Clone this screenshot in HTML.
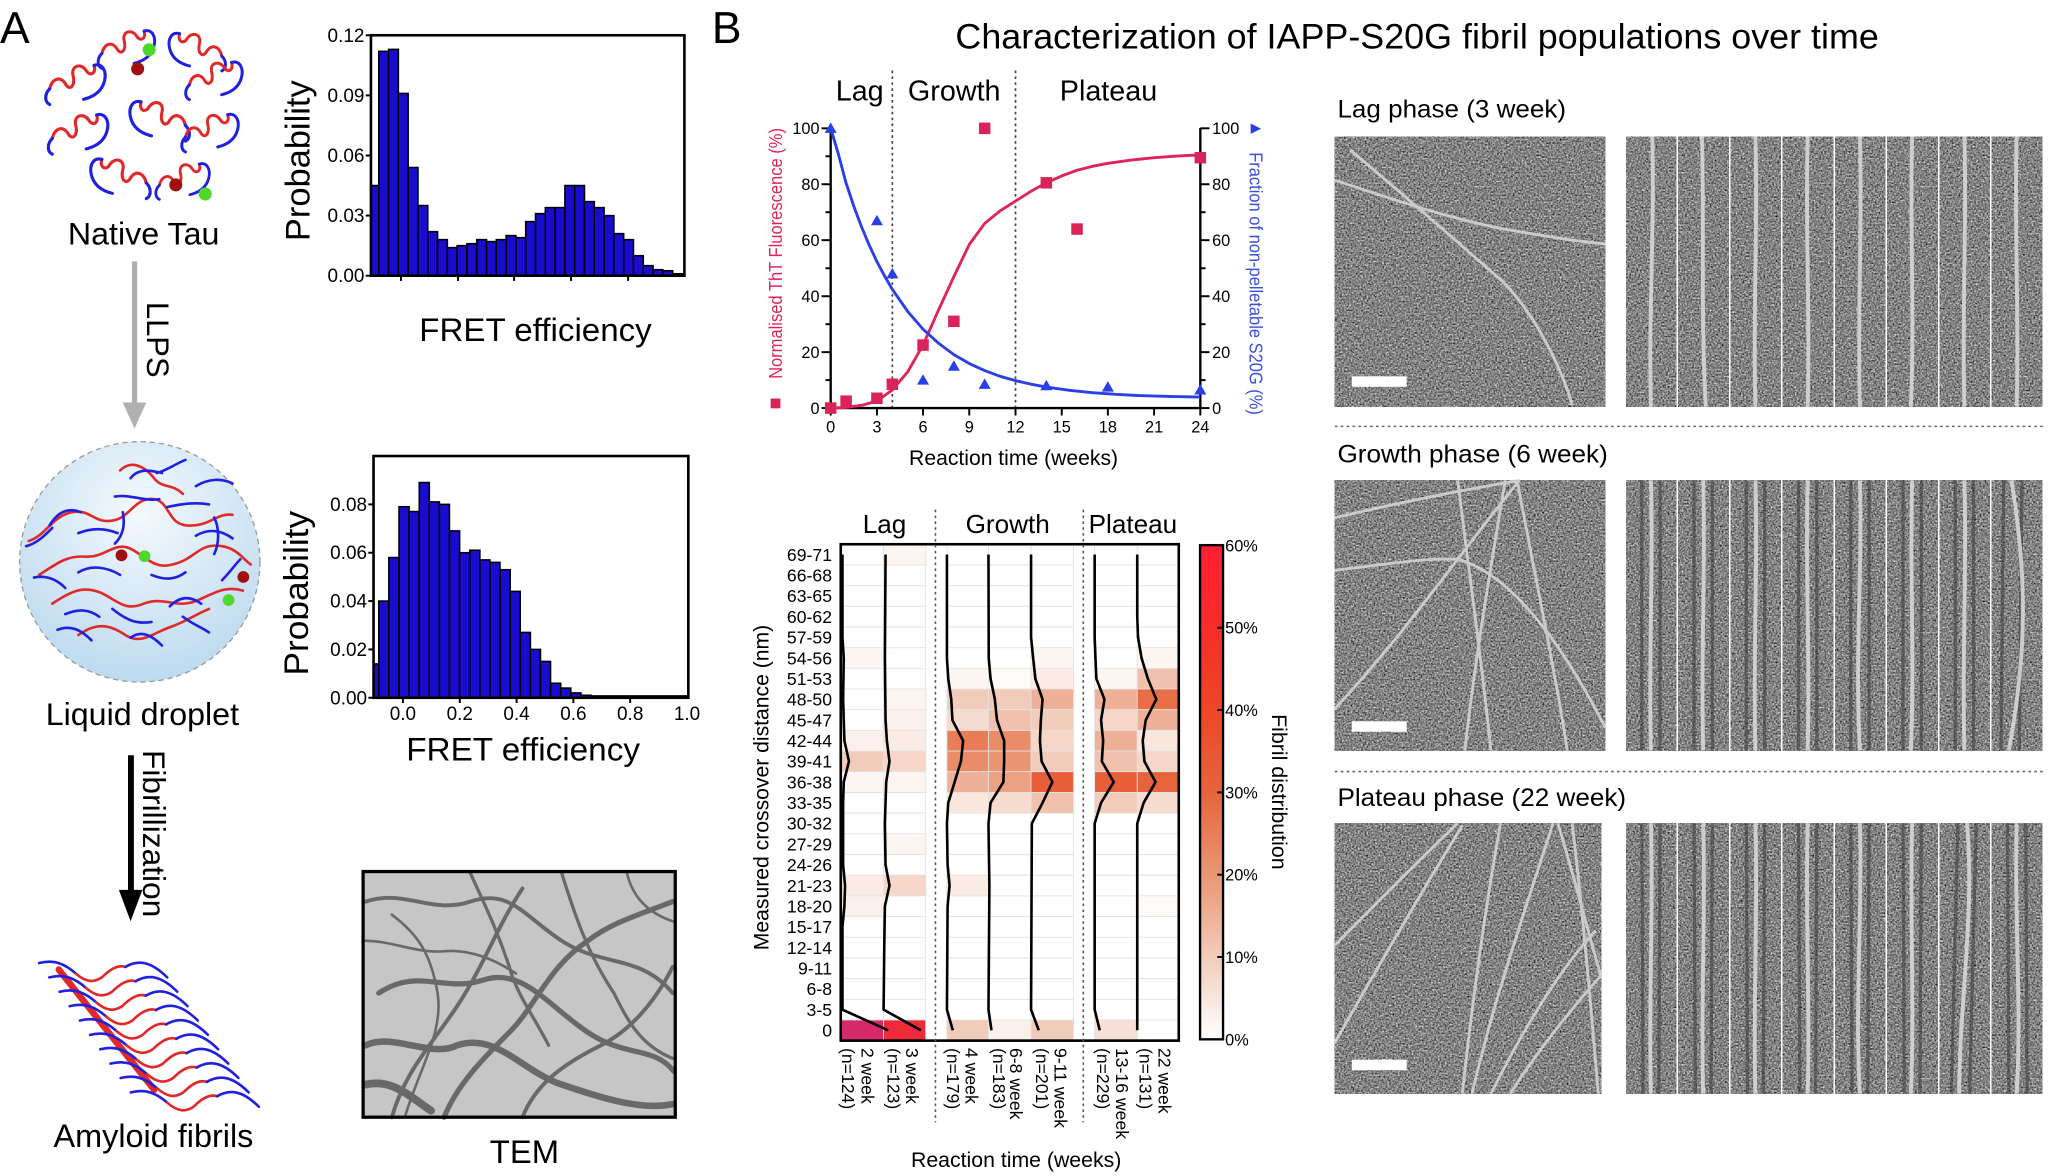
<!DOCTYPE html>
<html><head><meta charset="utf-8"><style>
html,body{margin:0;padding:0;background:#fff;}
svg{display:block;}
text{font-family:"Liberation Sans",Arial,sans-serif;}
</style></head><body>
<svg width="2048" height="1176" viewBox="0 0 1568 900" preserveAspectRatio="none" xmlns="http://www.w3.org/2000/svg">
<defs>
<filter id="nz" x="0" y="0" width="100%" height="100%" color-interpolation-filters="sRGB">
<feTurbulence type="fractalNoise" baseFrequency="0.75" numOctaves="2" seed="4" result="t"/>
<feColorMatrix in="t" type="matrix" values="0.33 0.33 0.33 0 0 0.33 0.33 0.33 0 0 0.33 0.33 0.33 0 0 0 0 0 0 1" result="g"/>
<feComponentTransfer in="g"><feFuncR type="linear" slope="1.8" intercept="-0.38"/><feFuncG type="linear" slope="1.8" intercept="-0.38"/><feFuncB type="linear" slope="1.8" intercept="-0.38"/></feComponentTransfer>
</filter>
<linearGradient id="cb" x1="0" y1="1" x2="0" y2="0">
<stop offset="0" stop-color="#ffffff"/><stop offset="0.1667" stop-color="#f2ccba"/><stop offset="0.3333" stop-color="#ea9673"/><stop offset="0.5" stop-color="#e6643c"/><stop offset="0.6667" stop-color="#ee4628"/><stop offset="0.8333" stop-color="#f52d28"/><stop offset="1" stop-color="#ff1f33"/>
</linearGradient>
<radialGradient id="drop" cx="0.5" cy="0.3" r="0.75">
<stop offset="0" stop-color="#f4f9fd"/><stop offset="1" stop-color="#b9d8ee"/>
</radialGradient>
<g id="mol" fill="none" stroke-width="2.4" stroke-linecap="round">
<path d="M0,22 C2,14 8,12 12,18 C15,24 20,20 18,12 C16,4 24,2 28,8 C31,13 36,10 34,4" stroke="#e02a2a"/>
<path d="M34,4 C40,2 44,8 42,16 C40,24 34,28 26,30" stroke="#2020e0"/>
<path d="M0,22 C-4,26 -4,32 0,34" stroke="#2020e0"/>
</g>
</defs>

<!-- ================= PANEL A ================= -->
<text x="0" y="33" font-size="34">A</text>

<use href="#mol" transform="translate(78,20) scale(0.95)"/>
<use href="#mol" transform="translate(128,22) scale(-0.95,0.95) translate(-44,0)"/>
<use href="#mol" transform="translate(38,46)"/>
<use href="#mol" transform="translate(145,44) scale(0.95)"/>
<use href="#mol" transform="translate(98,74) scale(-1,1) translate(-44,0)"/>
<use href="#mol" transform="translate(40,84)"/>
<use href="#mol" transform="translate(142,84) scale(0.95)"/>
<use href="#mol" transform="translate(68,118) scale(-1,1) translate(-44,0)"/>
<use href="#mol" transform="translate(122,122) scale(0.9)"/>
<circle cx="105.4" cy="52.7" r="5" fill="#a01010"/>
<circle cx="114.2" cy="38.1" r="5" fill="#4fd82a"/>
<circle cx="134.6" cy="141.5" r="5" fill="#a01010"/>
<circle cx="157.1" cy="148.5" r="5" fill="#4fd82a"/>
<text x="110" y="187" font-size="24" text-anchor="middle" textLength="116" lengthAdjust="spacingAndGlyphs">Native Tau</text>

<rect x="101" y="200" width="4" height="110" fill="#b0b0b0"/>
<polygon points="94,308 112,308 103,328" fill="#b0b0b0"/>
<text transform="translate(112.6,260) rotate(90)" font-size="24" text-anchor="middle" textLength="58" lengthAdjust="spacingAndGlyphs">LLPS</text>

<!-- hist 1 -->
<g fill="#1a0ccf" stroke="#000" stroke-width="1.2">
<rect x="284" y="142" width="6" height="69"/>
<rect x="290" y="39.3" width="7.5" height="171.7"/>
<rect x="297.5" y="37.8" width="7.5" height="173.2"/>
<rect x="305" y="71.5" width="7.5" height="139.5"/>
<rect x="312.5" y="128.2" width="7.5" height="82.8"/>
<rect x="320" y="157.3" width="7.5" height="53.7"/>
<rect x="327.5" y="177.3" width="7.5" height="33.7"/>
<rect x="335" y="183.4" width="7.5" height="27.6"/>
<rect x="342.5" y="189.5" width="7.5" height="21.5"/>
<rect x="350" y="188" width="7.5" height="23"/>
<rect x="357.5" y="186.5" width="7.5" height="24.5"/>
<rect x="365" y="183.4" width="7.5" height="27.6"/>
<rect x="372.5" y="184.9" width="7.5" height="26.1"/>
<rect x="380" y="183.4" width="7.5" height="27.6"/>
<rect x="387.5" y="180.3" width="7.5" height="30.7"/>
<rect x="395" y="181.9" width="7.5" height="29.1"/>
<rect x="402.5" y="169.6" width="7.5" height="41.4"/>
<rect x="410" y="163.5" width="7.5" height="47.5"/>
<rect x="417.5" y="158.9" width="7.5" height="52.1"/>
<rect x="425" y="158.9" width="7.5" height="52.1"/>
<rect x="432.5" y="142" width="7.5" height="69"/>
<rect x="440" y="142" width="7.5" height="69"/>
<rect x="447.5" y="154.3" width="7.5" height="56.7"/>
<rect x="455" y="158.9" width="7.5" height="52.1"/>
<rect x="462.5" y="165" width="7.5" height="46"/>
<rect x="470" y="178.8" width="7.5" height="32.2"/>
<rect x="477.5" y="183.4" width="7.5" height="27.6"/>
<rect x="485" y="195.7" width="7.5" height="15.3"/>
<rect x="492.5" y="203.3" width="7.5" height="7.7"/>
<rect x="500" y="206.4" width="7.5" height="4.6"/>
<rect x="507.5" y="207.2" width="7.5" height="3.8"/>
<rect x="515" y="209.5" width="7.5" height="1.5"/>
</g>
<rect x="284" y="27" width="240" height="184" fill="none" stroke="#000" stroke-width="2"/>
<g stroke="#000" stroke-width="1.5">
<line x1="280" y1="27" x2="284" y2="27"/><line x1="280" y1="73" x2="284" y2="73"/><line x1="280" y1="119" x2="284" y2="119"/><line x1="280" y1="165" x2="284" y2="165"/><line x1="280" y1="211" x2="284" y2="211"/>
<line x1="307" y1="211" x2="307" y2="215"/><line x1="350.7" y1="211" x2="350.7" y2="215"/><line x1="393.6" y1="211" x2="393.6" y2="215"/><line x1="437.2" y1="211" x2="437.2" y2="215"/><line x1="480.9" y1="211" x2="480.9" y2="215"/>
</g>
<g font-size="14.5" text-anchor="end">
<text x="279" y="32">0.12</text><text x="279" y="78">0.09</text><text x="279" y="124">0.06</text><text x="279" y="170">0.03</text><text x="279" y="216">0.00</text>
</g>
<text transform="translate(237,123) rotate(-90)" font-size="26" text-anchor="middle" textLength="123" lengthAdjust="spacingAndGlyphs">Probability</text>
<text x="410" y="261" font-size="25" text-anchor="middle" textLength="178" lengthAdjust="spacingAndGlyphs">FRET efficiency</text>

<!-- droplet -->
<circle cx="107" cy="430" r="92" fill="url(#drop)" stroke="#9a9a9a" stroke-width="1" stroke-dasharray="4,3"/>
<g fill="none" stroke-width="2" stroke-linecap="round">
<path d="M22,414 C35,410 40,395 55,392 C70,389 72,402 88,398 C100,395 104,380 118,382 C130,384 128,400 142,402 C160,404 166,392 178,394" stroke="#e02a2a"/>
<path d="M30,440 C45,430 52,425 66,426 C80,427 88,414 100,420 C112,426 118,436 132,432 C150,428 152,415 170,418 C182,420 186,428 192,432" stroke="#e02a2a"/>
<path d="M40,462 C55,452 64,448 78,454 C90,460 96,468 110,462 C126,456 134,466 150,460 C164,454 172,448 186,452" stroke="#e02a2a"/>
<path d="M60,486 C74,476 84,478 96,486 C108,494 118,484 130,480 C142,476 150,470 160,466" stroke="#e02a2a"/>
<path d="M92,360 C100,352 110,356 118,366 C124,374 132,370 140,378" stroke="#e02a2a"/>
<path d="M100,366 C106,358 116,360 124,362" stroke="#2020e0"/>
<path d="M120,362 C128,360 136,354 142,352" stroke="#2020e0"/>
<path d="M88,380 C100,378 110,384 122,382" stroke="#2020e0"/>
<path d="M128,388 C138,386 148,384 160,386" stroke="#2020e0"/>
<path d="M150,372 C160,366 170,366 178,370" stroke="#2020e0"/>
<path d="M38,402 C44,392 52,388 62,392" stroke="#2020e0"/>
<path d="M60,408 C70,404 80,404 90,408" stroke="#2020e0"/>
<path d="M94,392 C96,402 94,410 88,416" stroke="#2020e0"/>
<path d="M20,418 C28,416 34,410 40,404" stroke="#2020e0"/>
<path d="M150,410 C160,404 170,406 178,412" stroke="#2020e0"/>
<path d="M164,396 C168,404 168,416 164,424" stroke="#2020e0"/>
<path d="M60,438 C70,432 82,434 92,440" stroke="#2020e0"/>
<path d="M116,440 C126,444 134,444 142,438" stroke="#2020e0"/>
<path d="M26,442 C36,440 44,444 50,450" stroke="#2020e0"/>
<path d="M50,470 C60,466 68,466 76,472" stroke="#2020e0"/>
<path d="M86,466 C96,474 104,478 116,476" stroke="#2020e0"/>
<path d="M130,464 C138,456 146,456 154,462" stroke="#2020e0"/>
<path d="M170,444 C176,438 180,432 184,428" stroke="#2020e0"/>
<path d="M44,482 C54,478 62,482 70,490" stroke="#2020e0"/>
<path d="M100,488 C108,482 116,486 124,494" stroke="#2020e0"/>
<path d="M140,472 C148,478 154,480 160,484" stroke="#2020e0"/>
</g>
<circle cx="93" cy="425" r="4.5" fill="#a01010"/>
<circle cx="110.7" cy="425.7" r="4.5" fill="#4fd82a"/>
<circle cx="186.3" cy="441.6" r="4.5" fill="#a01010"/>
<circle cx="175" cy="459.3" r="4.5" fill="#4fd82a"/>
<text x="109" y="555" font-size="24" text-anchor="middle" textLength="148" lengthAdjust="spacingAndGlyphs">Liquid droplet</text>

<!-- hist 2 -->
<g fill="#1a0ccf" stroke="#000" stroke-width="1.2">
<rect x="286" y="508.1" width="4" height="25.9"/>
<rect x="290" y="460" width="7.7" height="74"/>
<rect x="297.7" y="426.7" width="7.7" height="107.3"/>
<rect x="305.5" y="387.8" width="7.7" height="146.2"/>
<rect x="313.2" y="391.5" width="7.7" height="142.5"/>
<rect x="321" y="369.3" width="7.7" height="164.7"/>
<rect x="328.7" y="384.1" width="7.7" height="149.9"/>
<rect x="336.4" y="386" width="7.7" height="148"/>
<rect x="344.2" y="406.3" width="7.7" height="127.7"/>
<rect x="351.9" y="423" width="7.7" height="111"/>
<rect x="359.7" y="421.1" width="7.7" height="112.9"/>
<rect x="367.4" y="428.5" width="7.7" height="105.5"/>
<rect x="375.1" y="430.4" width="7.7" height="103.6"/>
<rect x="382.9" y="436" width="7.7" height="98"/>
<rect x="390.6" y="452.6" width="7.7" height="81.4"/>
<rect x="398.4" y="484" width="7.7" height="50"/>
<rect x="406.1" y="497" width="7.7" height="37"/>
<rect x="413.8" y="506.2" width="7.7" height="27.8"/>
<rect x="421.6" y="522.9" width="7.7" height="11.1"/>
<rect x="429.3" y="526.6" width="7.7" height="7.4"/>
<rect x="437.1" y="530.3" width="7.7" height="3.7"/>
<rect x="444.8" y="532.1" width="7.7" height="1.9"/>
<rect x="452.5" y="532.6" width="73.5" height="1.4"/>
</g>
<rect x="286" y="349" width="241" height="185" fill="none" stroke="#000" stroke-width="2"/>
<g stroke="#000" stroke-width="1.5">
<line x1="282" y1="386" x2="286" y2="386"/><line x1="282" y1="423" x2="286" y2="423"/><line x1="282" y1="460" x2="286" y2="460"/><line x1="282" y1="497" x2="286" y2="497"/><line x1="282" y1="534" x2="286" y2="534"/>
<line x1="308.5" y1="534" x2="308.5" y2="538"/><line x1="352" y1="534" x2="352" y2="538"/><line x1="395.5" y1="534" x2="395.5" y2="538"/><line x1="439" y1="534" x2="439" y2="538"/><line x1="482.5" y1="534" x2="482.5" y2="538"/>
</g>
<g font-size="14.5" text-anchor="end">
<text x="281" y="391">0.08</text><text x="281" y="428">0.06</text><text x="281" y="465">0.04</text><text x="281" y="502">0.02</text><text x="281" y="539">0.00</text>
</g>
<g font-size="14.5" text-anchor="middle">
<text x="308.5" y="551">0.0</text><text x="352" y="551">0.2</text><text x="395.5" y="551">0.4</text><text x="439" y="551">0.6</text><text x="482.5" y="551">0.8</text><text x="526" y="551">1.0</text>
</g>
<text transform="translate(236,454) rotate(-90)" font-size="26" text-anchor="middle" textLength="126" lengthAdjust="spacingAndGlyphs">Probability</text>
<text x="400.5" y="582" font-size="25" text-anchor="middle" textLength="179" lengthAdjust="spacingAndGlyphs">FRET efficiency</text>

<rect x="98" y="578" width="4.5" height="105" fill="#000"/>
<polygon points="91,681 109,681 100,705" fill="#000"/>
<text transform="translate(109.6,638) rotate(90)" font-size="24" text-anchor="middle" textLength="128" lengthAdjust="spacingAndGlyphs">Fibrillization</text>

<!-- amyloid fibrils -->
<g fill="none" stroke-width="2" stroke-linecap="round">
<path d="M45,742 L118,834" stroke="#e02a2a" stroke-width="5"/>
<g id="strand">
<path d="M30,737 C42,734 50,738 58,745" stroke="#2020e0"/>
<path d="M58,745 C66,752 72,752 78,748 C84,742 90,738 96,740" stroke="#e02a2a"/>
<path d="M96,740 C106,734 116,736 128,748" stroke="#2020e0"/>
</g>
<use href="#strand" transform="translate(7.8,11)"/>
<use href="#strand" transform="translate(15.6,22)"/>
<use href="#strand" transform="translate(23.4,33)"/>
<use href="#strand" transform="translate(31.2,44)"/>
<use href="#strand" transform="translate(39,55)"/>
<use href="#strand" transform="translate(46.8,66)"/>
<use href="#strand" transform="translate(54.6,77)"/>
<use href="#strand" transform="translate(62.4,88)"/>
<use href="#strand" transform="translate(70.2,99)"/>
</g>
<text x="117.5" y="878" font-size="24.5" text-anchor="middle" textLength="153" lengthAdjust="spacingAndGlyphs">Amyloid fibrils</text>

<!-- TEM -->
<rect x="278" y="667" width="239" height="188" fill="#c6c6c6"/>
<g fill="none" stroke="#4a4a4a" stroke-linecap="round" opacity="0.75">
<path d="M280,690 C310,680 330,700 360,690 C390,680 400,700 430,720 C460,740 490,730 515,760" stroke-width="3"/>
<path d="M290,760 C320,740 340,760 370,750 C400,740 420,770 450,790 C480,810 500,800 516,820" stroke-width="4"/>
<path d="M280,800 C300,790 330,810 350,800 C380,790 400,820 430,830 C460,840 490,850 515,845" stroke-width="5"/>
<path d="M300,855 C310,820 330,800 350,770 C370,740 380,710 400,680" stroke-width="3"/>
<path d="M340,855 C350,830 370,810 390,790 C410,770 420,740 450,720 C470,705 490,700 515,690" stroke-width="4"/>
<path d="M400,855 C410,830 430,815 460,800 C480,790 500,770 515,740" stroke-width="3"/>
<path d="M430,668 C440,700 450,730 470,760 C480,780 490,800 515,810" stroke-width="2.5"/>
<path d="M360,668 C370,690 380,710 390,740 C395,760 410,780 420,800" stroke-width="2.5"/>
<path d="M280,720 C300,720 320,730 340,728 C360,726 380,735 395,745" stroke-width="2"/>
<path d="M280,830 C300,825 315,840 330,850" stroke-width="6"/>
<path d="M480,668 C485,690 500,700 515,705" stroke-width="2"/>
<path d="M300,700 C320,715 330,730 335,760 C340,790 320,820 310,855" stroke-width="2"/>
</g>
<rect x="278" y="667" width="239" height="188" fill="none" stroke="#000" stroke-width="2.5"/>
<text x="401.5" y="890" font-size="25" text-anchor="middle" textLength="53" lengthAdjust="spacingAndGlyphs">TEM</text>

<!-- ================= PANEL B ================= -->
<text x="545" y="33" font-size="34">B</text>
<text x="731.5" y="37" font-size="27" textLength="707" lengthAdjust="spacingAndGlyphs">Characterization of IAPP-S20G fibril populations over time</text>

<g font-size="22" text-anchor="middle">
<text x="658.2" y="77">Lag</text><text x="730.6" y="77">Growth</text><text x="848.7" y="77">Plateau</text>
</g>
<g stroke="#444" stroke-width="1.3" stroke-dasharray="2,2.5">
<line x1="683.2" y1="54" x2="683.2" y2="312"/><line x1="777.5" y1="54" x2="777.5" y2="312"/>
</g>
<g stroke="#000" stroke-width="1.8" fill="none">
<line x1="636" y1="98" x2="636" y2="313"/>
<line x1="635" y1="312.3" x2="920" y2="312.3"/>
<line x1="919" y1="98" x2="919" y2="313"/>
</g>
<g stroke="#000" stroke-width="1.5">
<line x1="629" y1="312.3" x2="636" y2="312.3"/><line x1="632" y1="290.9" x2="636" y2="290.9"/><line x1="629" y1="269.5" x2="636" y2="269.5"/><line x1="632" y1="248.1" x2="636" y2="248.1"/><line x1="629" y1="226.7" x2="636" y2="226.7"/><line x1="632" y1="205.3" x2="636" y2="205.3"/><line x1="629" y1="183.8" x2="636" y2="183.8"/><line x1="632" y1="162.4" x2="636" y2="162.4"/><line x1="629" y1="141" x2="636" y2="141"/><line x1="632" y1="119.6" x2="636" y2="119.6"/><line x1="629" y1="98.2" x2="636" y2="98.2"/>
<line x1="919" y1="312.3" x2="926" y2="312.3"/><line x1="919" y1="290.9" x2="923" y2="290.9"/><line x1="919" y1="269.5" x2="926" y2="269.5"/><line x1="919" y1="248.1" x2="923" y2="248.1"/><line x1="919" y1="226.7" x2="926" y2="226.7"/><line x1="919" y1="205.3" x2="923" y2="205.3"/><line x1="919" y1="183.8" x2="926" y2="183.8"/><line x1="919" y1="162.4" x2="923" y2="162.4"/><line x1="919" y1="141" x2="926" y2="141"/><line x1="919" y1="119.6" x2="923" y2="119.6"/><line x1="919" y1="98.2" x2="926" y2="98.2"/>
<line x1="636" y1="312" x2="636" y2="318"/><line x1="671.4" y1="312" x2="671.4" y2="318"/><line x1="706.7" y1="312" x2="706.7" y2="318"/><line x1="742.1" y1="312" x2="742.1" y2="318"/><line x1="777.5" y1="312" x2="777.5" y2="318"/><line x1="812.9" y1="312" x2="812.9" y2="318"/><line x1="848.2" y1="312" x2="848.2" y2="318"/><line x1="883.6" y1="312" x2="883.6" y2="318"/><line x1="919" y1="312" x2="919" y2="318"/>
</g>
<g font-size="12.5" text-anchor="end">
<text x="627.5" y="316.8">0</text><text x="627.5" y="274">20</text><text x="627.5" y="231.2">40</text><text x="627.5" y="188.3">60</text><text x="627.5" y="145.5">80</text><text x="627.5" y="102.7">100</text>
</g>
<g font-size="12.5">
<text x="928" y="316.8">0</text><text x="928" y="274">20</text><text x="928" y="231.2">40</text><text x="928" y="188.3">60</text><text x="928" y="145.5">80</text><text x="928" y="102.7">100</text>
</g>
<g font-size="12.5" text-anchor="middle">
<text x="636" y="331">0</text><text x="671.4" y="331">3</text><text x="706.7" y="331">6</text><text x="742.1" y="331">9</text><text x="777.5" y="331">12</text><text x="812.9" y="331">15</text><text x="848.2" y="331">18</text><text x="883.6" y="331">21</text><text x="919" y="331">24</text>
</g>
<text x="776" y="356" font-size="16.2" text-anchor="middle" textLength="160" lengthAdjust="spacingAndGlyphs">Reaction time (weeks)</text>
<text transform="translate(598.7,194) rotate(-90)" font-size="14" fill="#e0245a" text-anchor="middle" textLength="192" lengthAdjust="spacingAndGlyphs">Normalised ThT Fluorescence (%)</text>
<rect x="590" y="305" width="7.5" height="7.5" fill="#d82458"/>
<text transform="translate(956.6,217) rotate(90)" font-size="14" fill="#3a4fe0" text-anchor="middle" textLength="201" lengthAdjust="spacingAndGlyphs">Fraction of non-pelletable S20G (%)</text>
<polygon points="957.5,94.5 957.5,102.5 965.5,98.5" fill="#2a3fe8"/>
<polyline fill="none" stroke="#e0245a" stroke-width="2.2" stroke-linejoin="round" points="636,312.3 647.8,311.8 659.6,310.2 671.4,306.9 683.2,298.4 695,284.5 706.7,264.1 718.5,237.4 730.3,211.7 742.1,187.1 753.9,171 765.7,161.4 777.5,153.9 789.3,146.4 801.1,139.9 812.9,134.6 824.6,130.3 836.4,127.3 848.2,125 866,122.5 883.6,120.7 901,119.4 919,118.5"/>
<polyline fill="none" stroke="#2a3fe8" stroke-width="2.2" stroke-linejoin="round" points="636,98.2 641.9,118 647.8,140.2 653.7,157.8 659.6,173.6 665.5,187.6 671.4,200.3 677.3,211.3 683.2,221.5 695,238.4 706.7,251.9 718.5,262.6 730.3,271.4 742.1,278.2 753.9,283.6 765.7,288 777.5,291.3 789.3,294 801.1,296.2 818.7,298.7 836.4,300.5 854,301.8 871.8,302.7 895,303.4 919,303.9"/>
<g fill="#d82458">
<rect x="631.6" y="307.9" width="8.8" height="8.8"/><rect x="643.4" y="302.6" width="8.8" height="8.8"/><rect x="667" y="300.4" width="8.8" height="8.8"/><rect x="678.8" y="289.7" width="8.8" height="8.8"/><rect x="702.3" y="259.7" width="8.8" height="8.8"/><rect x="725.9" y="241.5" width="8.8" height="8.8"/><rect x="749.5" y="93.8" width="8.8" height="8.8"/><rect x="796.7" y="135.5" width="8.8" height="8.8"/><rect x="820.2" y="170.9" width="8.8" height="8.8"/><rect x="914.6" y="116.3" width="8.8" height="8.8"/>
</g>
<g fill="#2a3fe8">
<polygon points="636,93.7 640.6,101.7 631.4,101.7"/><polygon points="671.4,164.4 676,172.4 666.8,172.4"/><polygon points="683.2,205 687.8,213 678.6,213"/><polygon points="706.7,286.4 711.3,294.4 702.1,294.4"/><polygon points="730.3,275.7 734.9,283.7 725.7,283.7"/><polygon points="753.9,289.6 758.5,297.6 749.3,297.6"/><polygon points="801.1,290.7 805.7,298.7 796.5,298.7"/><polygon points="848.2,291.7 852.8,299.7 843.6,299.7"/><polygon points="919,293.9 923.6,301.9 914.4,301.9"/>
</g>

<!-- heatmap -->
<g font-size="20" text-anchor="middle">
<text x="677.2" y="408">Lag</text><text x="771.5" y="408">Growth</text><text x="867.4" y="408">Plateau</text>
</g>
<g stroke="#e4e4e4" stroke-width="0.8">
<line x1="643.7" y1="432.3" x2="902.5" y2="432.3"/><line x1="643.7" y1="448.2" x2="902.5" y2="448.2"/><line x1="643.7" y1="464" x2="902.5" y2="464"/><line x1="643.7" y1="479.8" x2="902.5" y2="479.8"/><line x1="643.7" y1="495.7" x2="902.5" y2="495.7"/><line x1="643.7" y1="511.5" x2="902.5" y2="511.5"/><line x1="643.7" y1="527.3" x2="902.5" y2="527.3"/><line x1="643.7" y1="543.1" x2="902.5" y2="543.1"/><line x1="643.7" y1="559" x2="902.5" y2="559"/><line x1="643.7" y1="574.8" x2="902.5" y2="574.8"/><line x1="643.7" y1="590.6" x2="902.5" y2="590.6"/><line x1="643.7" y1="606.5" x2="902.5" y2="606.5"/><line x1="643.7" y1="622.3" x2="902.5" y2="622.3"/><line x1="643.7" y1="638.1" x2="902.5" y2="638.1"/><line x1="643.7" y1="654" x2="902.5" y2="654"/><line x1="643.7" y1="669.8" x2="902.5" y2="669.8"/><line x1="643.7" y1="685.6" x2="902.5" y2="685.6"/><line x1="643.7" y1="701.4" x2="902.5" y2="701.4"/><line x1="643.7" y1="717.3" x2="902.5" y2="717.3"/><line x1="643.7" y1="733.1" x2="902.5" y2="733.1"/><line x1="643.7" y1="748.9" x2="902.5" y2="748.9"/><line x1="643.7" y1="764.8" x2="902.5" y2="764.8"/><line x1="643.7" y1="780.6" x2="902.5" y2="780.6"/>
<line x1="676.5" y1="416.5" x2="676.5" y2="796.4"/><line x1="708.7" y1="416.5" x2="708.7" y2="796.4"/><line x1="725" y1="416.5" x2="725" y2="796.4"/><line x1="756.8" y1="416.5" x2="756.8" y2="796.4"/><line x1="789.4" y1="416.5" x2="789.4" y2="796.4"/><line x1="821.9" y1="416.5" x2="821.9" y2="796.4"/><line x1="838.1" y1="416.5" x2="838.1" y2="796.4"/><line x1="870.7" y1="416.5" x2="870.7" y2="796.4"/>
</g>
<rect x="709.2" y="416.5" width="15.3" height="380" fill="#fff"/>
<rect x="822.4" y="416.5" width="15.2" height="380" fill="#fff"/>
<g stroke="#e4e4e4" stroke-width="0.6">
<rect x="643.7" y="780.6" width="32.8" height="15.8" fill="#d6296a"/>
<rect x="643.7" y="574.8" width="32.8" height="15.8" fill="#f2ccba"/>
<rect x="643.7" y="559" width="32.8" height="15.8" fill="#fbf0eb"/>
<rect x="643.7" y="669.8" width="32.8" height="15.8" fill="#faebe4"/>
<rect x="643.7" y="685.6" width="32.8" height="15.8" fill="#fbf0eb"/>
<rect x="643.7" y="495.7" width="32.8" height="15.8" fill="#fdf5f2"/>
<rect x="643.7" y="590.6" width="32.8" height="15.8" fill="#fdf5f2"/>
<rect x="676.5" y="780.6" width="32.2" height="15.8" fill="#ee2b3b"/>
<rect x="676.5" y="574.8" width="32.2" height="15.8" fill="#f5d6c8"/>
<rect x="676.5" y="669.8" width="32.2" height="15.8" fill="#f5d6c8"/>
<rect x="676.5" y="559" width="32.2" height="15.8" fill="#faebe4"/>
<rect x="676.5" y="543.1" width="32.2" height="15.8" fill="#fbf0eb"/>
<rect x="676.5" y="590.6" width="32.2" height="15.8" fill="#fdf5f2"/>
<rect x="676.5" y="527.3" width="32.2" height="15.8" fill="#fdf5f2"/>
<rect x="676.5" y="416.5" width="32.2" height="15.8" fill="#fdf5f2"/>
<rect x="676.5" y="638.1" width="32.2" height="15.8" fill="#fdf5f2"/>
<rect x="725" y="527.3" width="31.8" height="15.8" fill="#f2ccba"/>
<rect x="725" y="543.1" width="31.8" height="15.8" fill="#f6dbcf"/>
<rect x="725" y="559" width="31.8" height="15.8" fill="#e87d58"/>
<rect x="725" y="574.8" width="31.8" height="15.8" fill="#e98c68"/>
<rect x="725" y="590.6" width="31.8" height="15.8" fill="#eeb197"/>
<rect x="725" y="606.5" width="31.8" height="15.8" fill="#f9e6dd"/>
<rect x="725" y="669.8" width="31.8" height="15.8" fill="#faebe4"/>
<rect x="725" y="780.6" width="31.8" height="15.8" fill="#f2ccba"/>
<rect x="725" y="511.5" width="31.8" height="15.8" fill="#fdf5f2"/>
<rect x="756.8" y="527.3" width="32.6" height="15.8" fill="#f2ccba"/>
<rect x="756.8" y="543.1" width="32.6" height="15.8" fill="#f0c1ac"/>
<rect x="756.8" y="559" width="32.6" height="15.8" fill="#e98c68"/>
<rect x="756.8" y="574.8" width="32.6" height="15.8" fill="#ea9673"/>
<rect x="756.8" y="590.6" width="32.6" height="15.8" fill="#eca182"/>
<rect x="756.8" y="606.5" width="32.6" height="15.8" fill="#f6dbcf"/>
<rect x="756.8" y="780.6" width="32.6" height="15.8" fill="#fbf0eb"/>
<rect x="756.8" y="511.5" width="32.6" height="15.8" fill="#fefaf8"/>
<rect x="789.4" y="511.5" width="32.5" height="15.8" fill="#faebe4"/>
<rect x="789.4" y="527.3" width="32.5" height="15.8" fill="#eeb197"/>
<rect x="789.4" y="543.1" width="32.5" height="15.8" fill="#f2ccba"/>
<rect x="789.4" y="559" width="32.5" height="15.8" fill="#f5d6c8"/>
<rect x="789.4" y="574.8" width="32.5" height="15.8" fill="#f2ccba"/>
<rect x="789.4" y="590.6" width="32.5" height="15.8" fill="#e85e38"/>
<rect x="789.4" y="606.5" width="32.5" height="15.8" fill="#f0c1ac"/>
<rect x="789.4" y="780.6" width="32.5" height="15.8" fill="#f2ccba"/>
<rect x="789.4" y="495.7" width="32.5" height="15.8" fill="#fdf5f2"/>
<rect x="838.1" y="527.3" width="32.6" height="15.8" fill="#eeb197"/>
<rect x="838.1" y="543.1" width="32.6" height="15.8" fill="#f5d6c8"/>
<rect x="838.1" y="559" width="32.6" height="15.8" fill="#eeb197"/>
<rect x="838.1" y="574.8" width="32.6" height="15.8" fill="#f0c1ac"/>
<rect x="838.1" y="590.6" width="32.6" height="15.8" fill="#e85e38"/>
<rect x="838.1" y="606.5" width="32.6" height="15.8" fill="#f2ccba"/>
<rect x="838.1" y="780.6" width="32.6" height="15.8" fill="#f7e1d6"/>
<rect x="838.1" y="511.5" width="32.6" height="15.8" fill="#fdf5f2"/>
<rect x="870.7" y="511.5" width="31.8" height="15.8" fill="#f0c1ac"/>
<rect x="870.7" y="527.3" width="31.8" height="15.8" fill="#e76e47"/>
<rect x="870.7" y="543.1" width="31.8" height="15.8" fill="#eeb197"/>
<rect x="870.7" y="559" width="31.8" height="15.8" fill="#f9e6dd"/>
<rect x="870.7" y="574.8" width="31.8" height="15.8" fill="#f5d6c8"/>
<rect x="870.7" y="590.6" width="31.8" height="15.8" fill="#e6643c"/>
<rect x="870.7" y="606.5" width="31.8" height="15.8" fill="#f6dbcf"/>
<rect x="870.7" y="495.7" width="31.8" height="15.8" fill="#fdf5f2"/>
<rect x="870.7" y="685.6" width="31.8" height="15.8" fill="#fefaf8"/>
</g>
<g fill="none" stroke="#000" stroke-width="2" stroke-linejoin="round">
<polyline points="645,424.4 645,487.7 646,503.6 645.5,535.2 646.5,566.9 650,582.7 646,598.5 645.5,614.4 645.5,661.9 647,677.7 646.5,693.5 645,709.3 645,772.7 680,788.5"/>
<polyline points="678,424.4 677.5,503.6 678,551.1 679,566.9 681,582.7 678.5,598.5 677.5,630.2 678,661.9 681,677.7 677.5,693.5 677,725.2 676.5,772.7 705,788.5"/>
<polyline points="725,424.4 725,503.6 726,519.4 728.3,535.2 729.2,551.1 737.4,566.9 735.7,582.7 730.9,598.5 726,614.4 725,630.2 725.5,661.9 727,677.7 725.5,693.5 725,772.7 729.5,788.5"/>
<polyline points="756.8,424.4 757,503.6 758.4,519.4 761.7,535.2 763.3,551.1 768.8,566.9 768.8,582.7 768.2,598.5 758.4,614.4 756.8,630.2 757.5,677.7 756.8,772.7 759.1,788.5"/>
<polyline points="789.4,424.4 789.4,487.7 791,503.6 792.7,519.4 798.2,535.2 796.9,551.1 796.2,566.9 797.5,582.7 805.7,598.5 798.2,614.4 790,630.2 789.4,772.7 795.3,788.5"/>
<polyline points="838.1,424.4 838.1,487.7 838.7,503.6 839.4,519.4 845.6,535.2 843,551.1 844.6,566.9 843.6,582.7 852.7,598.5 843,614.4 838.1,630.2 838.1,772.7 842,788.5"/>
<polyline points="870.7,424.4 870.7,471.9 871.3,487.7 874,503.6 878.8,519.4 885.3,535.2 877.2,551.1 874.9,566.9 876.2,582.7 884.7,598.5 875.6,614.4 870.7,630.2 870.7,788.5"/>
</g>
<rect x="643.7" y="416.5" width="258.8" height="379.9" fill="none" stroke="#000" stroke-width="2"/>
<g stroke="#555" stroke-width="1.2" stroke-dasharray="2,2.5">
<line x1="716.2" y1="390" x2="716.2" y2="859"/><line x1="829.4" y1="390" x2="829.4" y2="859"/>
</g>
<g font-size="13.5" text-anchor="end">
<text x="637" y="429.2">69-71</text><text x="637" y="445">66-68</text><text x="637" y="460.9">63-65</text><text x="637" y="476.7">60-62</text><text x="637" y="492.5">57-59</text><text x="637" y="508.4">54-56</text><text x="637" y="524.2">51-53</text><text x="637" y="540">48-50</text><text x="637" y="555.9">45-47</text><text x="637" y="571.7">42-44</text><text x="637" y="587.5">39-41</text><text x="637" y="603.3">36-38</text><text x="637" y="619.2">33-35</text><text x="637" y="635">30-32</text><text x="637" y="650.8">27-29</text><text x="637" y="666.7">24-26</text><text x="637" y="682.5">21-23</text><text x="637" y="698.3">18-20</text><text x="637" y="714.1">15-17</text><text x="637" y="730">12-14</text><text x="637" y="745.8">9-11</text><text x="637" y="761.6">6-8</text><text x="637" y="777.5">3-5</text><text x="637" y="793.3">0</text>
</g>
<text transform="translate(588.5,602.7) rotate(-90)" font-size="16" text-anchor="middle" textLength="249" lengthAdjust="spacingAndGlyphs">Measured crossover distance (nm)</text>
<g font-size="13.5">
<text transform="translate(659.5,802) rotate(90)">2 week</text><text transform="translate(644.8,802) rotate(90)">(n=124)</text>
<text transform="translate(693.6,802) rotate(90)">3 week</text><text transform="translate(679.6,802) rotate(90)">(n=123)</text>
<text transform="translate(739.1,802) rotate(90)">4 week</text><text transform="translate(725.1,802) rotate(90)">(n=179)</text>
<text transform="translate(773.3,802) rotate(90)">6-8 week</text><text transform="translate(760.3,802) rotate(90)">(n=183)</text>
<text transform="translate(807.3,802) rotate(90)">9-11 week</text><text transform="translate(793.3,802) rotate(90)">(n=201)</text>
<text transform="translate(854.6,802) rotate(90)">13-16 week</text><text transform="translate(840,802) rotate(90)">(n=229)</text>
<text transform="translate(887.1,802) rotate(90)">22 week</text><text transform="translate(872.3,802) rotate(90)">(n=131)</text>
</g>
<text x="778" y="893" font-size="16.3" text-anchor="middle" textLength="161" lengthAdjust="spacingAndGlyphs">Reaction time (weeks)</text>

<rect x="918.8" y="417.2" width="17.6" height="378.2" fill="url(#cb)" stroke="#000" stroke-width="1.8"/>
<g stroke="#000" stroke-width="1.5">
<line x1="932" y1="732.4" x2="936.4" y2="732.4"/><line x1="932" y1="669.4" x2="936.4" y2="669.4"/><line x1="932" y1="606.4" x2="936.4" y2="606.4"/><line x1="932" y1="543.4" x2="936.4" y2="543.4"/><line x1="932" y1="480.4" x2="936.4" y2="480.4"/>
</g>
<g font-size="12.5">
<text x="938" y="422">60%</text><text x="938" y="485">50%</text><text x="938" y="548">40%</text><text x="938" y="611">30%</text><text x="938" y="674">20%</text><text x="938" y="737">10%</text><text x="938" y="800">0%</text>
</g>
<text transform="translate(974,606) rotate(90)" font-size="16" text-anchor="middle" textLength="119" lengthAdjust="spacingAndGlyphs">Fibril distribution</text>

<!-- EM panels -->
<g font-size="19">
<text x="1024" y="90" textLength="175" lengthAdjust="spacingAndGlyphs">Lag phase (3 week)</text>
<text x="1024" y="354" textLength="207" lengthAdjust="spacingAndGlyphs">Growth phase (6 week)</text>
<text x="1024" y="617" textLength="221" lengthAdjust="spacingAndGlyphs">Plateau phase (22 week)</text>
</g>
<g stroke="#666" stroke-width="1.2" stroke-dasharray="2,2.5">
<line x1="1022" y1="326.3" x2="1564" y2="326.3"/><line x1="1022" y1="590.5" x2="1564" y2="590.5"/>
</g>
<rect x="1022" y="104.5" width="207" height="206.8" fill="#8c8c8c" filter="url(#nz)"/>
<rect x="1022" y="367.6" width="207" height="206.8" fill="#8c8c8c" filter="url(#nz)"/>
<rect x="1022" y="630" width="204" height="207" fill="#8c8c8c" filter="url(#nz)"/>
<g fill="none" stroke="#d8d8d8" stroke-width="2.2" opacity="0.85">
<path d="M1033.8,114.9 C1070,145 1110,180 1150,215 C1175,240 1195,280 1203.7,310"/>
<path d="M1021.7,137.9 C1060,150 1100,165 1150,175 C1190,182 1210,185 1229.2,186.7"/>
<path d="M1021.7,396.3 C1070,385 1120,375 1163.5,367.6"/>
<path d="M1021.7,436.5 C1060,432 1090,427 1116,427.9 C1160,440 1200,500 1229.2,557.2"/>
<path d="M1021.7,542.8 C1080,480 1120,420 1163.5,367.6"/>
<path d="M1116,367.6 C1125,440 1135,510 1141.5,574.4"/>
<path d="M1161.6,367.6 C1175,440 1190,510 1200,574.4"/>
<path d="M1121.5,574.4 C1130,500 1142,430 1152.5,367.6"/>
<path d="M1021.7,723.7 C1055,690 1090,655 1116,630"/>
<path d="M1021.7,798.4 C1055,740 1090,680 1119.6,631.8"/>
<path d="M1119.6,837 C1128,760 1138,690 1148.9,630"/>
<path d="M1127,837 C1145,760 1170,690 1189,630"/>
<path d="M1141.5,837 C1165,790 1195,740 1221.9,712.2"/>
<path d="M1156.2,837 C1180,800 1205,770 1225.6,746.7"/>
<path d="M1192.7,630 C1205,670 1215,710 1225.6,746.7"/>
<path d="M1203.7,630 C1212,700 1218,770 1223.7,837"/>
</g>
<g fill="#fff">
<rect x="1035" y="288" width="42" height="8"/><rect x="1035" y="552" width="42" height="8"/><rect x="1035" y="811" width="42" height="8"/>
</g>
<!-- strips (filter per rect) -->
<g fill="#888">
<rect x="1245" y="104.5" width="38.5" height="206.8" filter="url(#nz)"/><rect x="1285" y="104.5" width="38.5" height="206.8" filter="url(#nz)"/><rect x="1325" y="104.5" width="38.5" height="206.8" filter="url(#nz)"/><rect x="1365" y="104.5" width="38.5" height="206.8" filter="url(#nz)"/><rect x="1405" y="104.5" width="38.5" height="206.8" filter="url(#nz)"/><rect x="1445" y="104.5" width="38.5" height="206.8" filter="url(#nz)"/><rect x="1485" y="104.5" width="38.5" height="206.8" filter="url(#nz)"/><rect x="1525" y="104.5" width="38.5" height="206.8" filter="url(#nz)"/>
<rect x="1245" y="367.6" width="38.5" height="206.8" filter="url(#nz)"/><rect x="1285" y="367.6" width="38.5" height="206.8" filter="url(#nz)"/><rect x="1325" y="367.6" width="38.5" height="206.8" filter="url(#nz)"/><rect x="1365" y="367.6" width="38.5" height="206.8" filter="url(#nz)"/><rect x="1405" y="367.6" width="38.5" height="206.8" filter="url(#nz)"/><rect x="1445" y="367.6" width="38.5" height="206.8" filter="url(#nz)"/><rect x="1485" y="367.6" width="38.5" height="206.8" filter="url(#nz)"/><rect x="1525" y="367.6" width="38.5" height="206.8" filter="url(#nz)"/>
<rect x="1245" y="630" width="38.5" height="207" filter="url(#nz)"/><rect x="1285" y="630" width="38.5" height="207" filter="url(#nz)"/><rect x="1325" y="630" width="38.5" height="207" filter="url(#nz)"/><rect x="1365" y="630" width="38.5" height="207" filter="url(#nz)"/><rect x="1405" y="630" width="38.5" height="207" filter="url(#nz)"/><rect x="1445" y="630" width="38.5" height="207" filter="url(#nz)"/><rect x="1485" y="630" width="38.5" height="207" filter="url(#nz)"/><rect x="1525" y="630" width="38.5" height="207" filter="url(#nz)"/>
</g>
<g fill="none" stroke="#3a3a3a" stroke-width="2.5" opacity="0.55">
<path d="M1257,367.6 L1257,574.4"/><path d="M1271,367.6 L1271,574.4"/><path d="M1297,367.6 L1297,574.4"/><path d="M1311,367.6 L1311,574.4"/><path d="M1337,367.6 L1337,574.4"/><path d="M1351,367.6 L1351,574.4"/><path d="M1377,367.6 L1377,574.4"/><path d="M1391,367.6 L1391,574.4"/><path d="M1417,367.6 L1417,574.4"/><path d="M1431,367.6 L1431,574.4"/><path d="M1457,367.6 L1457,574.4"/><path d="M1471,367.6 L1471,574.4"/><path d="M1497,367.6 L1497,574.4"/><path d="M1511,367.6 L1511,574.4"/><path d="M1534,367.6 L1532,574.4"/><path d="M1548,367.6 L1546,574.4"/>
<path d="M1257,630 L1258,837"/><path d="M1271,630 L1270,837"/><path d="M1297,630 L1298,837"/><path d="M1311,630 L1310,837"/><path d="M1337,630 L1338,837"/><path d="M1351,630 L1350,837"/><path d="M1377,630 L1378,837"/><path d="M1391,630 L1390,837"/><path d="M1417,630 L1418,837"/><path d="M1431,630 L1430,837"/><path d="M1457,630 L1458,837"/><path d="M1471,630 L1470,837"/><path d="M1499,630 L1494,837"/><path d="M1513,630 L1508,837"/><path d="M1537,630 L1538,837"/><path d="M1551,630 L1552,837"/>
</g>
<g fill="none" stroke="#dcdcdc" stroke-width="3" opacity="0.85">
<path d="M1265,104.5 C1267,170 1262,240 1264,311.3"/><path d="M1303,104.5 C1305,170 1302,240 1306,311.3"/><path d="M1344,104.5 C1346,170 1342,240 1344,311.3"/><path d="M1384,104.5 C1382,170 1386,240 1384,311.3"/><path d="M1424,104.5 C1426,170 1422,240 1424,311.3"/><path d="M1464,104.5 C1462,170 1466,240 1463,311.3"/><path d="M1504,104.5 C1506,170 1502,240 1504,311.3"/><path d="M1544,104.5 C1542,170 1546,240 1544,311.3"/>
<path d="M1264,367.6 C1266,440 1262,500 1264,574.4"/><path d="M1304,367.6 C1306,440 1302,500 1304,574.4"/><path d="M1344,367.6 C1346,440 1342,500 1344,574.4"/><path d="M1384,367.6 C1382,440 1386,500 1384,574.4"/><path d="M1424,367.6 C1426,440 1420,500 1424,574.4"/><path d="M1464,367.6 C1462,440 1466,500 1463,574.4"/><path d="M1504,367.6 C1506,440 1502,500 1504,574.4"/><path d="M1540,367.6 C1552,440 1552,500 1538,574.4"/>
<path d="M1264,630 C1266,700 1262,770 1264,837"/><path d="M1304,630 C1306,700 1302,770 1304,837"/><path d="M1344,630 C1346,700 1342,770 1344,837"/><path d="M1384,630 C1382,700 1386,770 1384,837"/><path d="M1424,630 C1426,700 1420,770 1424,837"/><path d="M1464,630 C1462,700 1466,770 1463,837"/><path d="M1506,630 C1512,700 1500,770 1500,837"/><path d="M1544,630 C1542,700 1548,770 1544,837"/>
</g>
</svg>
</body></html>
